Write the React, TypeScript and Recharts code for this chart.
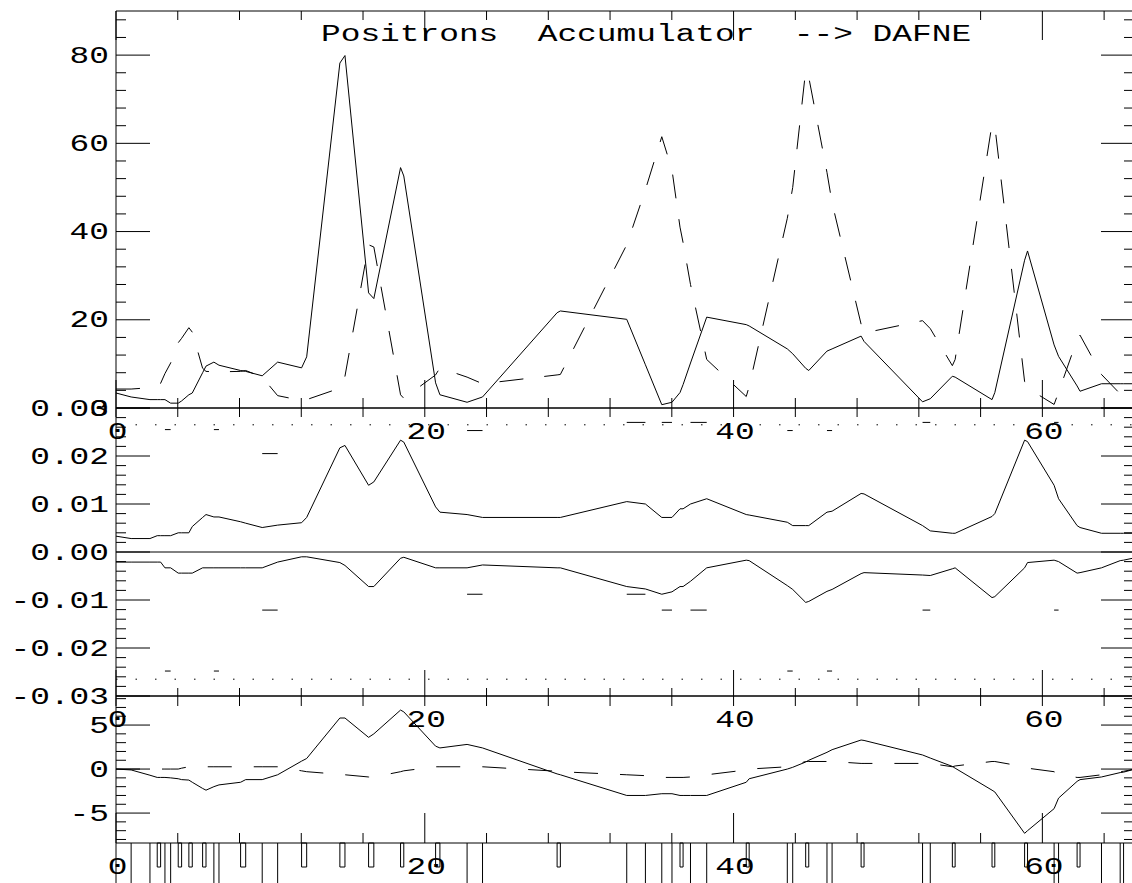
import React from "react";
import { ComposedChart, Line, XAxis, YAxis, ReferenceLine, ReferenceArea } from "recharts";

// ---------- data ----------
const X = [
  0, 0.98, 2.2, 2.67, 2.89, 3.17, 3.54, 4.03, 4.25, 4.72,
  4.94, 5.61, 5.83, 6.34, 6.67, 8.07, 8.4, 9.47, 10.47, 12.02,
  12.35, 14.5, 14.83, 16.36, 16.7, 18.43, 18.64, 20.7, 20.98, 22.74,
  23.74, 28.57, 28.78, 33.08, 34.29, 35.35, 36.01, 36.53, 36.73, 37.21,
  38.26, 40.82, 41.01, 43.48, 43.83, 44.67, 44.87, 46.05, 46.38, 48.26,
  48.45, 52.24, 52.74, 54.17, 54.35, 56.74, 56.92, 58.85, 59.04, 60.76,
  61.05, 62.25, 62.44, 63.83, 65.04, 65.26, 66,
];

// top panel, solid
const posSolid = [
  3.4, 2.5, 1.9, 1.9, 1.9, 1.9, 1.1, 1.1, 1.6, 3.0,
  3.4, 8.0, 9.5, 10.4, 9.7, 8.5, 8.3, 7.3, 10.4, 9.1,
  11.6, 78.2, 79.9, 26.1, 24.8, 54.5, 52.6, 5.7, 3.0, 1.3,
  2.5, 21.6, 22.0, 20.1, 9.8, 0.75, 1.3, 3.5, 5.3, 10.2,
  20.6, 18.9, 18.6, 13.4, 12.3, 9.0, 8.5, 12.9, 13.4, 16.3,
  15.1, 1.4, 2.1, 7.2, 7.0, 1.9, 3.5, 33.5, 35.6, 14.3,
  11.7, 5.0, 3.8, 5.5, 5.5, 5.5, 5.5,
];
// top panel, dashed
const posDashed = [
  4.3, 4.3, 4.6, 5.2, 5.6, 7.8, 10.2, 14.8, 15.8, 18.2,
  17.2, 9.0, 8.3, 8.2, 8.2, 8.3, 8.5, 7.0, 2.8, 1.7,
  1.9, 4.5, 7.2, 37.0, 36.5, 3.0, 2.2, 7.5, 9.1, 7.0,
  5.5, 7.5, 7.6, 37.0, 49.5, 61.5, 54.0, 41.0, 37.5, 28.0,
  11.0, 2.6, 4.9, 43.0, 50.0, 76.5, 75.0, 53.4, 46.5, 19.0,
  17.0, 19.8, 18.0, 9.6, 11.0, 64.4, 64.0, 6.0, 4.5, 0.8,
  3.6, 15.5, 16.5, 7.6, 3.2, 2.9, 1.3,
];
// middle panel, upper curve
const relUpper = [
  0.0033, 0.0028, 0.0028, 0.0034, 0.0034, 0.0034, 0.0034, 0.004, 0.004, 0.004,
  0.0053, 0.0072, 0.0078, 0.0073, 0.0073, 0.0063, 0.006, 0.0051, 0.0056, 0.0061,
  0.0072, 0.0217, 0.0222, 0.0139, 0.0146, 0.0233, 0.0229, 0.0094, 0.0083, 0.0078,
  0.0072, 0.0072, 0.0072, 0.0105, 0.01, 0.0072, 0.0072, 0.009, 0.009, 0.01,
  0.0111, 0.0078, 0.0077, 0.0062, 0.0055, 0.0055, 0.0055, 0.0083, 0.0085, 0.0122,
  0.0121, 0.0055, 0.0044, 0.0039, 0.0039, 0.0074, 0.008, 0.0233, 0.023, 0.0139,
  0.0111, 0.0055, 0.0051, 0.0039, 0.0039, 0.0039, 0.0039,
];
// middle panel, lower curve
const relLower = [
  -0.0021, -0.0021, -0.0021, -0.0021, -0.0021, -0.0033, -0.0033, -0.0044, -0.0044, -0.0044,
  -0.0044, -0.0033, -0.0033, -0.0033, -0.0033, -0.0033, -0.0033, -0.0033, -0.0021, -0.001,
  -0.001, -0.0022, -0.0028, -0.0072, -0.0072, -0.0013, -0.0011, -0.0033, -0.0033, -0.0033,
  -0.0027, -0.0033, -0.0033, -0.0072, -0.0077, -0.0088, -0.0083, -0.0072, -0.0072, -0.0061,
  -0.0033, -0.0017, -0.0018, -0.007, -0.0078, -0.0105, -0.0103, -0.0082, -0.0078, -0.0045,
  -0.0043, -0.0048, -0.0049, -0.0035, -0.0033, -0.0095, -0.0093, -0.0033, -0.0022, -0.0017,
  -0.002, -0.0044, -0.0043, -0.0033, -0.0018, -0.0017, -0.0012,
];
// bottom panel, solid
const diffSolid = [
  0, -0.1, -0.7, -0.95, -0.95, -0.95, -1.0, -1.1, -1.2, -1.25,
  -1.5, -2.2, -2.4, -2.0, -1.8, -1.5, -1.2, -1.2, -0.65, 0.9,
  1.2, 5.8, 5.8, 3.6, 4.0, 6.7, 6.5, 2.6, 2.4, 2.8,
  2.4, -0.55, -0.65, -3.0, -3.0, -2.8, -2.8, -3.0, -3.0, -3.0,
  -3.0, -1.5, -1.1, 0, 0.2, 0.8, 1.0, 1.9, 2.2, 3.3,
  3.25, 1.6, 1.25, 0.3, 0.1, -2.4, -2.6, -7.3, -7.0, -4.5,
  -3.3, -1.4, -1.2, -0.9, -0.4, -0.35, 0,
];
// bottom panel, dashed
const diffDashed = [
  0, 0, 0, 0, 0, 0, 0, 0, 0.1, 0.26,
  0.26, 0.26, 0.26, 0.26, 0.26, 0.26, 0.26, 0.26, 0.26, -0.2,
  -0.3, -0.6, -0.65, -0.9, -0.9, -0.3, -0.2, 0.26, 0.26, 0.26,
  0.26, -0.25, -0.3, -0.65, -0.75, -0.95, -0.95, -0.95, -0.95, -0.9,
  -0.65, -0.1, 0, 0.26, 0.4, 0.86, 0.86, 0.86, 0.86, 0.64,
  0.64, 0.64, 0.64, 0.26, 0.35, 0.86, 0.86, 0.26, 0.1, -0.3,
  -0.65, -0.95, -0.95, -0.65, -0.3, -0.25, 0,
];

// middle panel short markers (x-start, x-end, upper value, lower value)
const markStart = [3.17, 6.34, 9.47, 22.74, 33.08, 35.35, 37.21, 43.48, 46.05, 52.24, 60.76];
const markEnd = [3.54, 6.67, 10.47, 23.74, 34.29, 36.01, 38.26, 43.83, 46.38, 52.74, 61.05];
const markHigh = [0.0255, 0.0255, 0.0205, 0.0253, 0.027, 0.027, 0.027, 0.0253, 0.0253, 0.027, 0.027];
const markLow = [-0.0248, -0.0248, -0.0121, -0.0088, -0.0088, -0.0121, -0.0121, -0.0248, -0.0248, -0.0121, -0.0121];
const limitLines = [0.0265, -0.0265];

// bottom strip
const rugBoxStart = [2.67, 4.03, 4.72, 5.61, 8.07, 12.02, 14.5, 16.36, 18.43, 20.7, 28.57, 36.53, 40.82, 44.67, 48.26, 54.17, 56.74, 58.85, 62.25];
const rugBoxEnd = [2.89, 4.25, 4.94, 5.83, 8.4, 12.35, 14.83, 16.7, 18.64, 20.98, 28.78, 36.73, 41.01, 44.87, 48.45, 54.35, 56.92, 59.04, 62.44];
const rugLines = [0, 0.98, 2.2, 3.17, 3.54, 6.34, 6.67, 9.47, 10.47, 22.74, 23.74, 33.08, 34.29, 35.35, 36.01, 37.21, 38.26, 43.48, 43.83, 46.05, 46.38, 52.24, 52.74, 60.76, 61.05, 63.83, 65.04, 65.26];

// ticks
const xTicks = Array.from({ length: 17 }, (_, i) => i * 4);
const xMajors = [0, 20, 40, 60];
const y1Ticks = Array.from({ length: 23 }, (_, i) => i * 4);
const y1Majors = [0, 20, 40, 60, 80];
const y2Ticks = Array.from({ length: 31 }, (_, i) => Number((-0.03 + i * 0.002).toFixed(3)));
const y2Majors = [-0.03, -0.02, -0.01, 0, 0.01, 0.02, 0.03];
const y3Ticks = Array.from({ length: 17 }, (_, i) => i - 8);
const y3Majors = [-5, 0, 5];
const TITLE = "Positrons  Accumulator  --> DAFNE";

const rows = X.map((x, i) => ({
  x,
  posSolid: posSolid[i],
  posDashed: posDashed[i],
  relUpper: relUpper[i],
  relLower: relLower[i],
  diffSolid: diffSolid[i],
  diffDashed: diffDashed[i],
}));

// ---------- drawing helpers ----------
const FONT = "'Liberation Mono', 'DejaVu Sans Mono', monospace";
const PITCH = 19.7;
const INK = "#000";
const W = 1150;
const H = 883;
const LEFT = 116;
const RIGHT = 1135;

const MonoText = ({ x, y, text, anchor }: { x: number; y: number; text: string; anchor: "start" | "middle" | "end" }) => (
  <text
    x={x}
    y={y}
    textAnchor={anchor}
    fontFamily={FONT}
    fontSize={23}
    textLength={text.length * PITCH}
    lengthAdjust="spacingAndGlyphs"
    fill={INK}
    style={{ whiteSpace: "pre" }}
  >
    {text}
  </text>
);

const near = (v: number, list: number[]) => list.some((m) => Math.abs(m - v) < 1e-9);

const makeYTick = (side: "left" | "right", majors: number[], fmt: ((v: number) => string) | null) => (props: any) => {
  const { x, y, payload } = props;
  const v = payload.value as number;
  const major = near(v, majors);
  const len = major ? 34 : side === "left" ? 10 : 11;
  const dir = side === "left" ? 1 : -1;
  return (
    <g>
      <line x1={x} x2={x + dir * len} y1={y} y2={y} stroke={INK} strokeWidth={1} />
      {side === "left" && major && fmt ? <MonoText x={109} y={y + 7.5} text={fmt(v)} anchor="end" /> : null}
    </g>
  );
};

const makeXTick = (side: "top" | "bottom", minorLen: number, majorLen: number, labels: boolean) => (props: any) => {
  const { x, y, payload } = props;
  const v = payload.value as number;
  const major = near(v, xMajors);
  const len = major ? majorLen : minorLen;
  const dir = side === "top" ? 1 : -1;
  return (
    <g>
      <line x1={x} x2={x} y1={y} y2={y + dir * len} stroke={INK} strokeWidth={1} />
      {labels && major ? <MonoText x={x + 1.5} y={y + 31} text={String(v)} anchor="middle" /> : null}
    </g>
  );
};

const axisLine = { stroke: INK, strokeWidth: 1 };

type PanelProps = {
  top: number;
  bottom: number;
  domain: [number, number];
  yTicks: number[];
  yMajors: number[];
  fmt: (v: number) => string;
  topMinor: number;
  topMajor: number;
  botMinor: number;
  botMajor: number;
  children: React.ReactNode;
};

const Panel = ({ top, bottom, domain, yTicks, yMajors, fmt, topMinor, topMajor, botMinor, botMajor, children }: PanelProps) => (
  <div style={{ position: "absolute", left: 0, top: 0 }}>
    <ComposedChart
      width={W}
      height={H}
      data={rows}
      margin={{ top: top - 10, bottom: H - bottom - 10, left: LEFT - 10, right: W - RIGHT - 10 }}
    >
      <XAxis
        xAxisId="b"
        orientation="bottom"
        dataKey="x"
        type="number"
        domain={[0, 66]}
        allowDataOverflow
        ticks={xTicks}
        interval={0}
        height={10}
        tickSize={0}
        tickMargin={0}
        tickLine={false}
        axisLine={axisLine}
        tick={makeXTick("bottom", botMinor, botMajor, true)}
      />
      <XAxis
        xAxisId="t"
        orientation="top"
        dataKey="x"
        type="number"
        domain={[0, 66]}
        allowDataOverflow
        ticks={xTicks}
        interval={0}
        height={10}
        tickSize={0}
        tickMargin={0}
        tickLine={false}
        axisLine={axisLine}
        tick={makeXTick("top", topMinor, topMajor, false)}
      />
      <YAxis
        yAxisId="l"
        orientation="left"
        type="number"
        domain={domain}
        allowDataOverflow
        ticks={yTicks}
        interval={0}
        width={10}
        tickSize={0}
        tickMargin={0}
        tickLine={false}
        axisLine={axisLine}
        tick={makeYTick("left", yMajors, fmt)}
      />
      <YAxis
        yAxisId="r"
        orientation="right"
        type="number"
        domain={domain}
        allowDataOverflow
        ticks={yTicks}
        interval={0}
        width={10}
        tickSize={0}
        tickMargin={0}
        tickLine={false}
        axisLine={axisLine}
        tick={makeYTick("right", yMajors, null)}
      />
      {children}
    </ComposedChart>
  </div>
);

const lineProps = {
  xAxisId: "b",
  yAxisId: "l",
  type: "linear" as const,
  stroke: INK,
  strokeWidth: 1,
  dot: false,
  activeDot: false,
  isAnimationActive: false,
  connectNulls: true,
};

export default function App() {
  return (
    <div style={{ position: "absolute", left: 0, top: 0, width: 1132, height: 883, overflow: "hidden", background: "#fff" }}>
      <Panel top={11} bottom={408} domain={[0, 90]} yTicks={y1Ticks} yMajors={y1Majors} fmt={(v) => String(v)} topMinor={9} topMajor={29} botMinor={10} botMajor={28}>
        <Line {...lineProps} dataKey="posSolid" />
        <Line {...lineProps} dataKey="posDashed" strokeDasharray="24 21" />
      </Panel>

      <Panel top={408} bottom={696} domain={[-0.03, 0.03]} yTicks={y2Ticks} yMajors={y2Majors} fmt={(v) => v.toFixed(2)} topMinor={9} topMajor={9} botMinor={8} botMajor={26}>
        <ReferenceLine xAxisId="b" yAxisId="l" y={0} stroke={INK} strokeWidth={1} />
        {limitLines.map((v) => (
          <ReferenceLine key={`lim${v}`} xAxisId="b" yAxisId="l" y={v} stroke={INK} strokeWidth={1} strokeDasharray="1.5 18" />
        ))}
        {markStart.map((s, i) => (
          <ReferenceLine key={`mh${i}`} xAxisId="b" yAxisId="l" segment={[{ x: s, y: markHigh[i] }, { x: markEnd[i], y: markHigh[i] }]} stroke={INK} strokeWidth={1} />
        ))}
        {markStart.map((s, i) => (
          <ReferenceLine key={`ml${i}`} xAxisId="b" yAxisId="l" segment={[{ x: s, y: markLow[i] }, { x: markEnd[i], y: markLow[i] }]} stroke={INK} strokeWidth={1} />
        ))}
        <Line {...lineProps} dataKey="relUpper" />
        <Line {...lineProps} dataKey="relLower" />
      </Panel>

      <Panel top={696} bottom={843} domain={[-8.4, 8.3]} yTicks={y3Ticks} yMajors={y3Majors} fmt={(v) => String(v)} topMinor={10} topMajor={10} botMinor={10} botMajor={30}>
        <Line {...lineProps} dataKey="diffSolid" />
        <Line {...lineProps} dataKey="diffDashed" strokeDasharray="24 22" />
      </Panel>

      <div style={{ position: "absolute", left: 0, top: 0 }}>
        <ComposedChart width={W} height={H} data={rows} margin={{ top: 843, bottom: 0, left: LEFT, right: W - RIGHT }}>
          <XAxis xAxisId="b" dataKey="x" type="number" domain={[0, 66]} allowDataOverflow hide />
          <YAxis yAxisId="l" type="number" domain={[0, 1]} allowDataOverflow hide />
          {rugLines.map((v) => (
            <ReferenceLine key={`rl${v}`} xAxisId="b" yAxisId="l" x={v} stroke={INK} strokeWidth={1} />
          ))}
          {rugBoxStart.map((s, i) => (
            <ReferenceArea key={`rb${i}`} xAxisId="b" yAxisId="l" x1={s} x2={rugBoxEnd[i]} y1={0.4} y2={1} fill="none" stroke={INK} strokeWidth={1} />
          ))}
        </ComposedChart>
      </div>

      <svg width={1132} height={60} style={{ position: "absolute", left: 0, top: 0, pointerEvents: "none" }}>
        <MonoText x={321} y={41} text={TITLE} anchor="start" />
      </svg>
    </div>
  );
}
